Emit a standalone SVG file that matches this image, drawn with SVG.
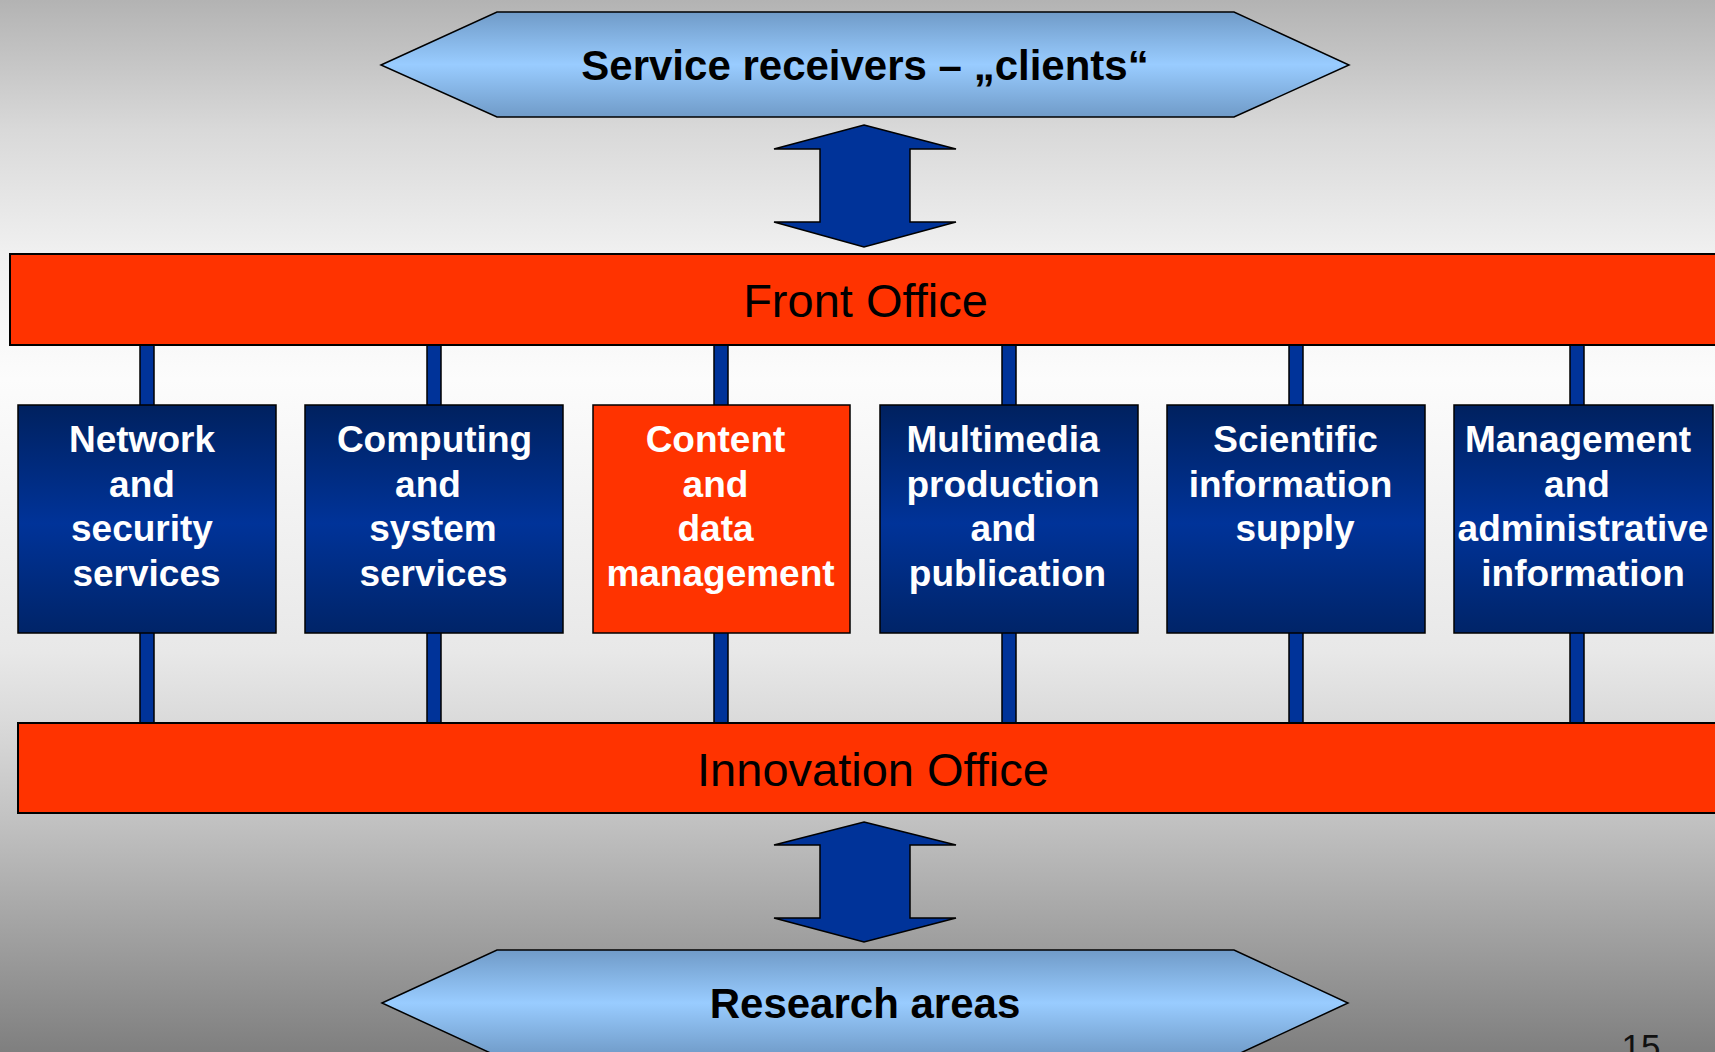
<svg xmlns="http://www.w3.org/2000/svg" width="1715" height="1052" viewBox="0 0 1715 1052">
<defs>
<linearGradient id="bg" x1="0" y1="0" x2="0" y2="1052" gradientUnits="userSpaceOnUse">
<stop offset="0" stop-color="#b3b3b3"/>
<stop offset="0.124" stop-color="#d9d9d9"/>
<stop offset="0.24" stop-color="#f0f0f0"/>
<stop offset="0.36" stop-color="#fcfcfc"/>
<stop offset="0.62" stop-color="#e8e8e8"/>
<stop offset="0.686" stop-color="#dadada"/>
<stop offset="0.775" stop-color="#c3c3c3"/>
<stop offset="1" stop-color="#7f7f7f"/>
</linearGradient>
<linearGradient id="hex" x1="0" y1="0" x2="0" y2="1">
<stop offset="0" stop-color="#709bc8"/>
<stop offset="0.5" stop-color="#99ccff"/>
<stop offset="1" stop-color="#709bc8"/>
</linearGradient>
<linearGradient id="blue" x1="0" y1="0" x2="0" y2="1">
<stop offset="0" stop-color="#00215f"/>
<stop offset="0.52" stop-color="#003399"/>
<stop offset="1" stop-color="#002468"/>
</linearGradient>
<style>
.hex{fill:url(#hex);stroke:#000;stroke-width:1.5}
.bar{fill:#ff3300;stroke:#000;stroke-width:2}
.box{fill:url(#blue);stroke:#000;stroke-width:1.5}
.obox{fill:#ff3300;stroke:#000;stroke-width:1.5}
.conn{fill:#003399;stroke:#000;stroke-width:1.5}
.arr{fill:#003399;stroke:#000;stroke-width:1.5}
.ht{font-family:"Liberation Sans",Arial,sans-serif;font-weight:bold;font-size:42px;fill:#000;text-anchor:middle}
.bt{font-family:"Liberation Sans",Arial,sans-serif;font-size:47px;fill:#000;text-anchor:middle}
.nt{font-family:"Liberation Sans",Arial,sans-serif;font-weight:bold;font-size:37px;fill:#fff;text-anchor:middle}
.pg{font-family:"Liberation Sans",Arial,sans-serif;font-size:35px;fill:#111;text-anchor:middle}
</style>
</defs>
<rect x="0" y="0" width="1715" height="1052" fill="url(#bg)"/>

<g id="connectors">
<rect class="conn" x="140" y="340" width="14" height="70"/>
<rect class="conn" x="427" y="340" width="14" height="70"/>
<rect class="conn" x="714" y="340" width="14" height="70"/>
<rect class="conn" x="1002" y="340" width="14" height="70"/>
<rect class="conn" x="1289" y="340" width="14" height="70"/>
<rect class="conn" x="1570" y="340" width="14" height="70"/>
<rect class="conn" x="140" y="628" width="14" height="100"/>
<rect class="conn" x="427" y="628" width="14" height="100"/>
<rect class="conn" x="714" y="628" width="14" height="100"/>
<rect class="conn" x="1002" y="628" width="14" height="100"/>
<rect class="conn" x="1289" y="628" width="14" height="100"/>
<rect class="conn" x="1570" y="628" width="14" height="100"/>
<polygon class="arr" points="864,125 956,149 910,149 910,222 956,222 864,247 774,222 820,222 820,149 774,149"/>
<polygon class="arr" points="864,822 956,845 910,845 910,918 956,918 864,942 774,918 820,918 820,845 774,845"/>
</g>

<g id="clients">
<polygon class="hex" points="381,65 497,12 1234,12 1349,65 1234,117 497,117"/>
<text class="ht" x="865" y="80">Service receivers – „clients“</text>
</g>

<g id="front-office">
<rect class="bar" x="10" y="254" width="1720" height="91"/>
<text class="bt" x="865.5" y="317">Front Office</text>
</g>

<g id="network">
<rect class="box" x="18" y="405" width="258" height="228"/>
<text class="nt"><tspan x="142" y="452">Network</tspan><tspan x="142" y="496.5">and</tspan><tspan x="142" y="541">security</tspan><tspan x="146.5" y="585.5">services</tspan></text>
</g>

<g id="computing">
<rect class="box" x="305" y="405" width="258" height="228"/>
<text class="nt"><tspan x="434.5" y="452">Computing</tspan><tspan x="428" y="496.5">and</tspan><tspan x="433" y="541">system</tspan><tspan x="433.5" y="585.5">services</tspan></text>
</g>

<g id="content">
<rect class="obox" x="593" y="405" width="257" height="228"/>
<text class="nt"><tspan x="715.5" y="452">Content</tspan><tspan x="715.5" y="496.5">and</tspan><tspan x="715.5" y="541">data</tspan><tspan x="720.5" y="585.5">management</tspan></text>
</g>

<g id="multimedia">
<rect class="box" x="880" y="405" width="258" height="228"/>
<text class="nt"><tspan x="1003" y="452">Multimedia</tspan><tspan x="1003" y="496.5">production</tspan><tspan x="1003.5" y="541">and</tspan><tspan x="1007.5" y="585.5">publication</tspan></text>
</g>

<g id="scientific">
<rect class="box" x="1167" y="405" width="258" height="228"/>
<text class="nt"><tspan x="1295.5" y="452">Scientific</tspan><tspan x="1290.5" y="496.5">information</tspan><tspan x="1295" y="541">supply</tspan></text>
</g>

<g id="management">
<rect class="box" x="1454" y="405" width="259" height="228"/>
<text class="nt"><tspan x="1578" y="452">Management</tspan><tspan x="1577" y="496.5">and</tspan><tspan x="1583" y="541">administrative</tspan><tspan x="1583" y="585.5">information</tspan></text>
</g>

<g id="innovation-office">
<rect class="bar" x="18" y="723" width="1712" height="90"/>
<text class="bt" x="873" y="786">Innovation Office</text>
</g>

<g id="research">
<polygon class="hex" points="382,1003 497,950 1234,950 1348,1003 1234,1056 497,1056"/>
<text class="ht" x="865" y="1018">Research areas</text>
</g>

<text class="pg" x="1641" y="1059">15</text>
</svg>
